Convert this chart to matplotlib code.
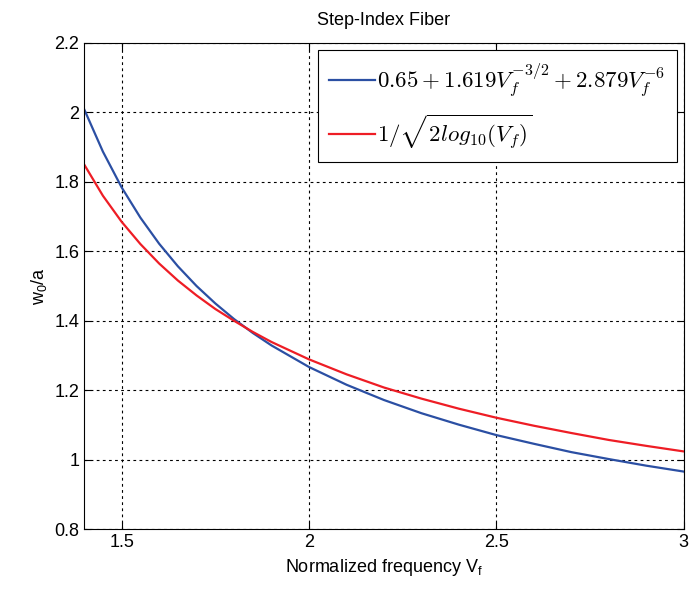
import numpy as np
import matplotlib
matplotlib.use("Agg")
import matplotlib.pyplot as plt

# values
v_f = [1.40, 1.45, 1.50, 1.55, 1.60, 1.65, 1.70, 1.75, 1.80, 1.85, 1.90,
       2.00, 2.10, 2.20, 2.30, 2.40, 2.50, 2.60, 2.70, 2.80, 2.90, 3.00]
w_fit = [2.009, 1.887, 1.784, 1.697, 1.622, 1.557, 1.500, 1.450, 1.405,
         1.365, 1.329, 1.267, 1.216, 1.172, 1.134, 1.101, 1.071, 1.046,
         1.022, 1.002, 0.983, 0.966]
w_log = [1.850, 1.760, 1.685, 1.621, 1.565, 1.516, 1.473, 1.434, 1.400,
         1.368, 1.339, 1.289, 1.246, 1.208, 1.176, 1.147, 1.121, 1.098,
         1.077, 1.057, 1.040, 1.024]

label_fit = r'$0.65+1.619V_f^{-3/2}+2.879V_f^{-6}$'
label_log = r'$1/\sqrt{2log_{10}(V_f)}$'

plt.rcParams['font.family'] = ['Liberation Sans', 'DejaVu Sans']
plt.rcParams['mathtext.fontset'] = 'custom'
plt.rcParams['mathtext.rm'] = 'Liberation Sans'
plt.rcParams['mathtext.it'] = 'Liberation Sans:italic'

fig = plt.figure(figsize=(6.9, 5.96), dpi=100)
ax = fig.add_axes([0.122, 0.112, 0.869, 0.816])

ax.plot(v_f, w_fit, color='#2b4fa3', lw=1.6, label=label_fit)
ax.plot(v_f, w_log, color='#ee1d25', lw=1.6, label=label_log)

ax.set_xlim(1.4, 3)
ax.set_ylim(0.8, 2.2)
ax.set_xticks([1.5, 2, 2.5, 3])
ax.set_xticklabels(['1.5', '2', '2.5', '3'])
ax.set_yticks([0.8, 1, 1.2, 1.4, 1.6, 1.8, 2, 2.2])
ax.set_yticklabels(['0.8', '1', '1.2', '1.4', '1.6', '1.8', '2', '2.2'])
ax.tick_params(direction='in', length=5, top=True, right=True, labelsize=13,
               width=0.8)
ax.grid(True, color='black', linestyle=(0, (2.5, 3)), linewidth=0.8)
for s in ax.spines.values():
    s.set_linewidth(0.8)

ax.set_title('Step-Index Fiber', fontsize=13, pad=13)
ax.set_xlabel(r'Normalized frequency V$_\mathrm{f}$', fontsize=13)
ax.set_ylabel(r'w$_\mathrm{0}$/a', fontsize=13)

leg = ax.legend(loc='upper right', fontsize=16.5, fancybox=False, framealpha=1,
                edgecolor='black', handlelength=2.0, handletextpad=0.1,
                borderaxespad=0.3, labelspacing=0.6, borderpad=0.5)
leg.get_frame().set_linewidth(0.8)
for t in leg.get_texts():
    t.set_math_fontfamily('cm')

fig.savefig('out.png', dpi=100)
